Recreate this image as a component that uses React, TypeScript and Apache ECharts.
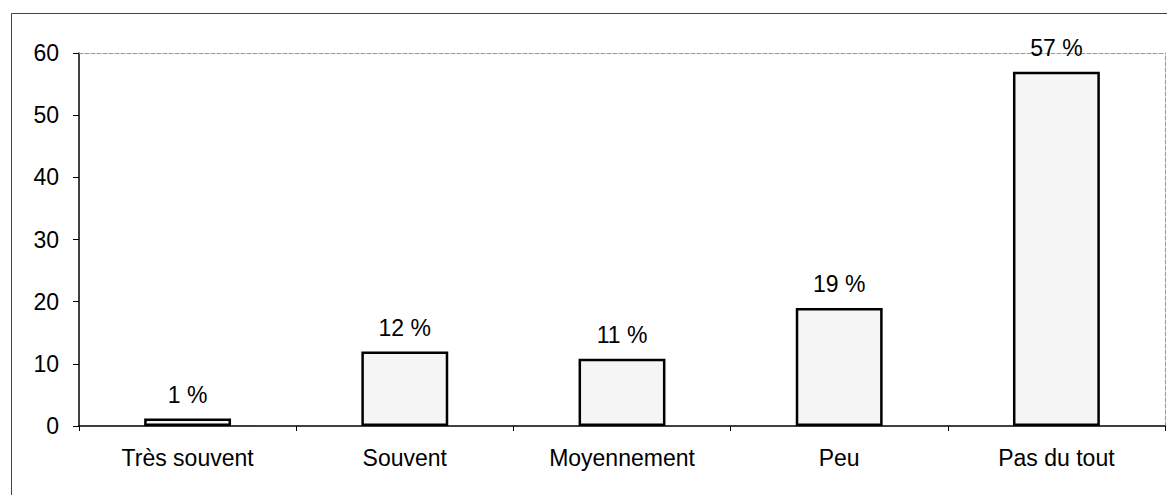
import React, { useEffect, useRef } from "react";
import * as echarts from "echarts";

const categories = ["Très souvent", "Souvent", "Moyennement", "Peu", "Pas du tout"];
const values = [1.2, 12, 10.8, 19, 57];
const labels = ["1 %", "12 %", "11 %", "19 %", "57 %"];
const yTicks = { min: 0, max: 60, interval: 10 };

const FONT = "'Liberation Sans', Arial, sans-serif";
const FS = 23;

export default function App() {
  const ref = useRef<HTMLDivElement>(null);
  useEffect(() => {
    if (!ref.current) return;
    const chart = echarts.init(ref.current, null, { renderer: "svg" });
    chart.setOption({
      animation: false,
      backgroundColor: "#ffffff",
      textStyle: { fontFamily: FONT },
      graphic: [
        {
          type: "rect",
          shape: { x: 3.5, y: 5.5, width: 1300, height: 700 },
          style: { fill: "none", stroke: "#444", lineWidth: 1 },
          silent: true,
        },
      ],
      grid: { left: 71, top: 45, right: 10, height: 373 },
      xAxis: [
        {
          type: "category",
          data: categories,
          axisLine: { lineStyle: { color: "#000", width: 1.5 } },
          axisTick: { show: true, length: 5, lineStyle: { color: "#000" } },
          axisLabel: { color: "#000", fontSize: FS, fontFamily: FONT, margin: 20 },
        },
        {
          type: "category",
          data: categories,
          position: "top",
          axisLine: { show: true, onZero: false, lineStyle: { color: "#999", type: [4, 2], width: 1 } },
          axisTick: { show: false },
          axisLabel: { show: false },
        },
      ],
      yAxis: [
        {
          type: "value",
          min: yTicks.min,
          max: yTicks.max,
          interval: yTicks.interval,
          axisLine: { show: true, lineStyle: { color: "#000", width: 1.5 } },
          axisTick: { show: true, length: 6, lineStyle: { color: "#000" } },
          splitLine: { show: false },
          axisLabel: { color: "#000", fontSize: FS, fontFamily: FONT, margin: 20 },
        },
        {
          type: "value",
          position: "right",
          min: yTicks.min,
          max: yTicks.max,
          interval: yTicks.interval,
          axisLine: { show: true, onZero: false, lineStyle: { color: "#999", type: [4, 2], width: 1 } },
          axisTick: { show: false },
          axisLabel: { show: false },
          splitLine: { show: false },
        },
      ],
      series: [
        {
          type: "bar",
          data: values,
          barWidth: "40%",
          itemStyle: { color: "#f5f5f5", borderColor: "#000", borderWidth: 2.5 },
          label: {
            show: true,
            position: "top",
            distance: 12,
            color: "#000",
            fontSize: FS,
            fontFamily: FONT,
            formatter: (p: any) => labels[p.dataIndex],
          },
        },
      ],
    });
    return () => chart.dispose();
  }, []);
  return <div ref={ref} style={{ width: 1167, height: 487 }} />;
}
